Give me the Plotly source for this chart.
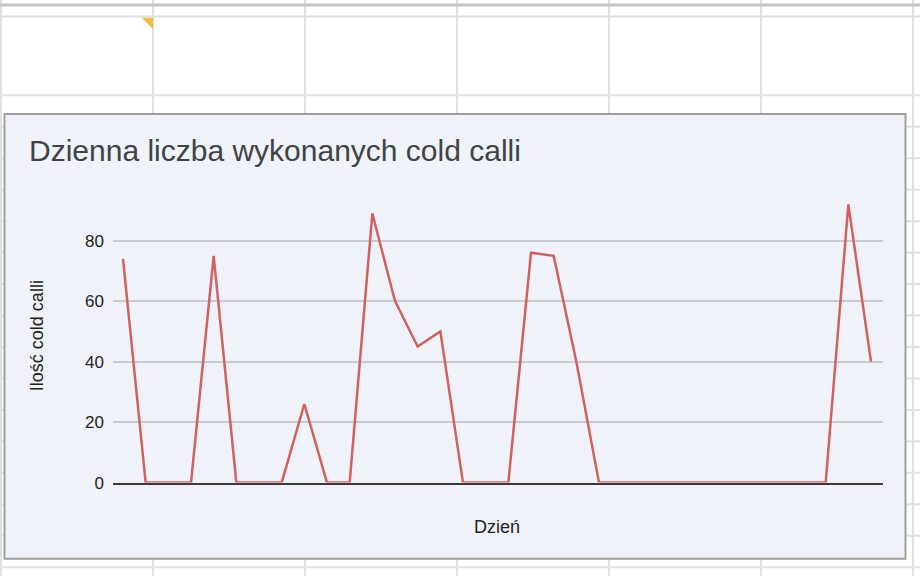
import plotly.graph_objects as go

# ---------------- data ----------------
days = list(range(1, 35))
calls = [74, 0, 0, 0, 75, 0, 0, 0, 26, 0, 0, 89, 60, 45, 50, 0, 0, 0, 76, 75, 40,
         0, 0, 0, 0, 0, 0, 0, 0, 0, 0, 0, 92, 40]
y_ticks = [0, 20, 40, 60, 80]

title_text = "Dzienna liczba wykonanych cold calli"
x_title = "Dzień"
y_title = "Ilość cold calli"

W, H = 920, 586


def px(x):
    return x / W


def py(y):
    return (H - y) / H


shapes = []
grid_col = "#e0e0e0"
# spreadsheet column lines
for xv in [1, 153, 305, 457, 609, 761, 913]:
    shapes.append(dict(type="line", xref="paper", yref="paper", x0=px(xv), x1=px(xv),
                       y0=0, y1=1, line=dict(color=grid_col, width=2), layer="below"))
# spreadsheet row lines
rows = [16.7] + [97 + 32 * k for k in range(16)]
for yv in rows:
    shapes.append(dict(type="line", xref="paper", yref="paper", x0=0, x1=1,
                       y0=py(yv), y1=py(yv), line=dict(color=grid_col, width=2), layer="below"))
# thicker header line at top
shapes.append(dict(type="line", xref="paper", yref="paper", x0=0, x1=1,
                   y0=py(5), y1=py(5), line=dict(color="#c4c4c4", width=3), layer="below"))
# yellow corner marker
tri = f"M {px(141.5)} {py(18)} L {px(153)} {py(18)} L {px(153)} {py(29.5)} Z"
shapes.append(dict(type="path", xref="paper", yref="paper", path=tri,
                   fillcolor="#f4bf45", line=dict(width=0), layer="below"))
# chart box
shapes.append(dict(type="rect", xref="paper", yref="paper",
                   x0=px(4.5), x1=px(905.5), y0=py(568.5), y1=py(116),
                   fillcolor="#eff2f8", line=dict(color="#9e9e9e", width=2), layer="below"))

fig = go.Figure()
fig.add_trace(go.Scatter(
    x=days, y=calls, mode="lines",
    line=dict(color="#d2605d", width=2.5),
    hoverinfo="x+y", showlegend=False,
))

fig.update_layout(
    width=W, height=H,
    margin=dict(l=0, r=0, t=0, b=0),
    paper_bgcolor="white",
    plot_bgcolor="rgba(0,0,0,0)",
    font=dict(family="Liberation Sans, Arial, sans-serif", color="#222222"),
    shapes=shapes,
    xaxis=dict(
        domain=[px(113), px(883)],
        range=[0.5588, 34.529],
        showgrid=False, zeroline=False,
        showticklabels=False, ticks="",
        showline=True, linecolor="#3a3a3a", linewidth=1.5,
        fixedrange=True,
    ),
    yaxis=dict(
        domain=[py(491), py(191)],
        range=[0, 97.5],
        tickvals=y_ticks,
        ticktext=[str(v) for v in y_ticks],
        showgrid=True, gridcolor="#c8cacf", gridwidth=1.5,
        zeroline=False, showline=False, ticks="",
        tickfont=dict(size=17, color="#222222"),
        ticklabelstandoff=8,
        fixedrange=True,
    ),
    annotations=[
        dict(text=title_text, xref="paper", yref="paper", x=px(27), y=py(153),
             xanchor="left", yanchor="middle", showarrow=False,
             font=dict(size=30, color="#404346")),
        dict(text=x_title, xref="paper", yref="paper", x=px(497), y=py(535.7),
             xanchor="center", yanchor="middle", showarrow=False,
             font=dict(size=18, color="#222222")),
        dict(text=y_title, xref="paper", yref="paper", x=px(37), y=py(342),
             xanchor="center", yanchor="middle", showarrow=False, textangle=-90,
             font=dict(size=18, color="#222222")),
    ],
)

fig.write_html(
    "out.html",
    config={"displayModeBar": False},
    post_script="document.body.style.margin='0';document.body.style.overflow='hidden';",
)
